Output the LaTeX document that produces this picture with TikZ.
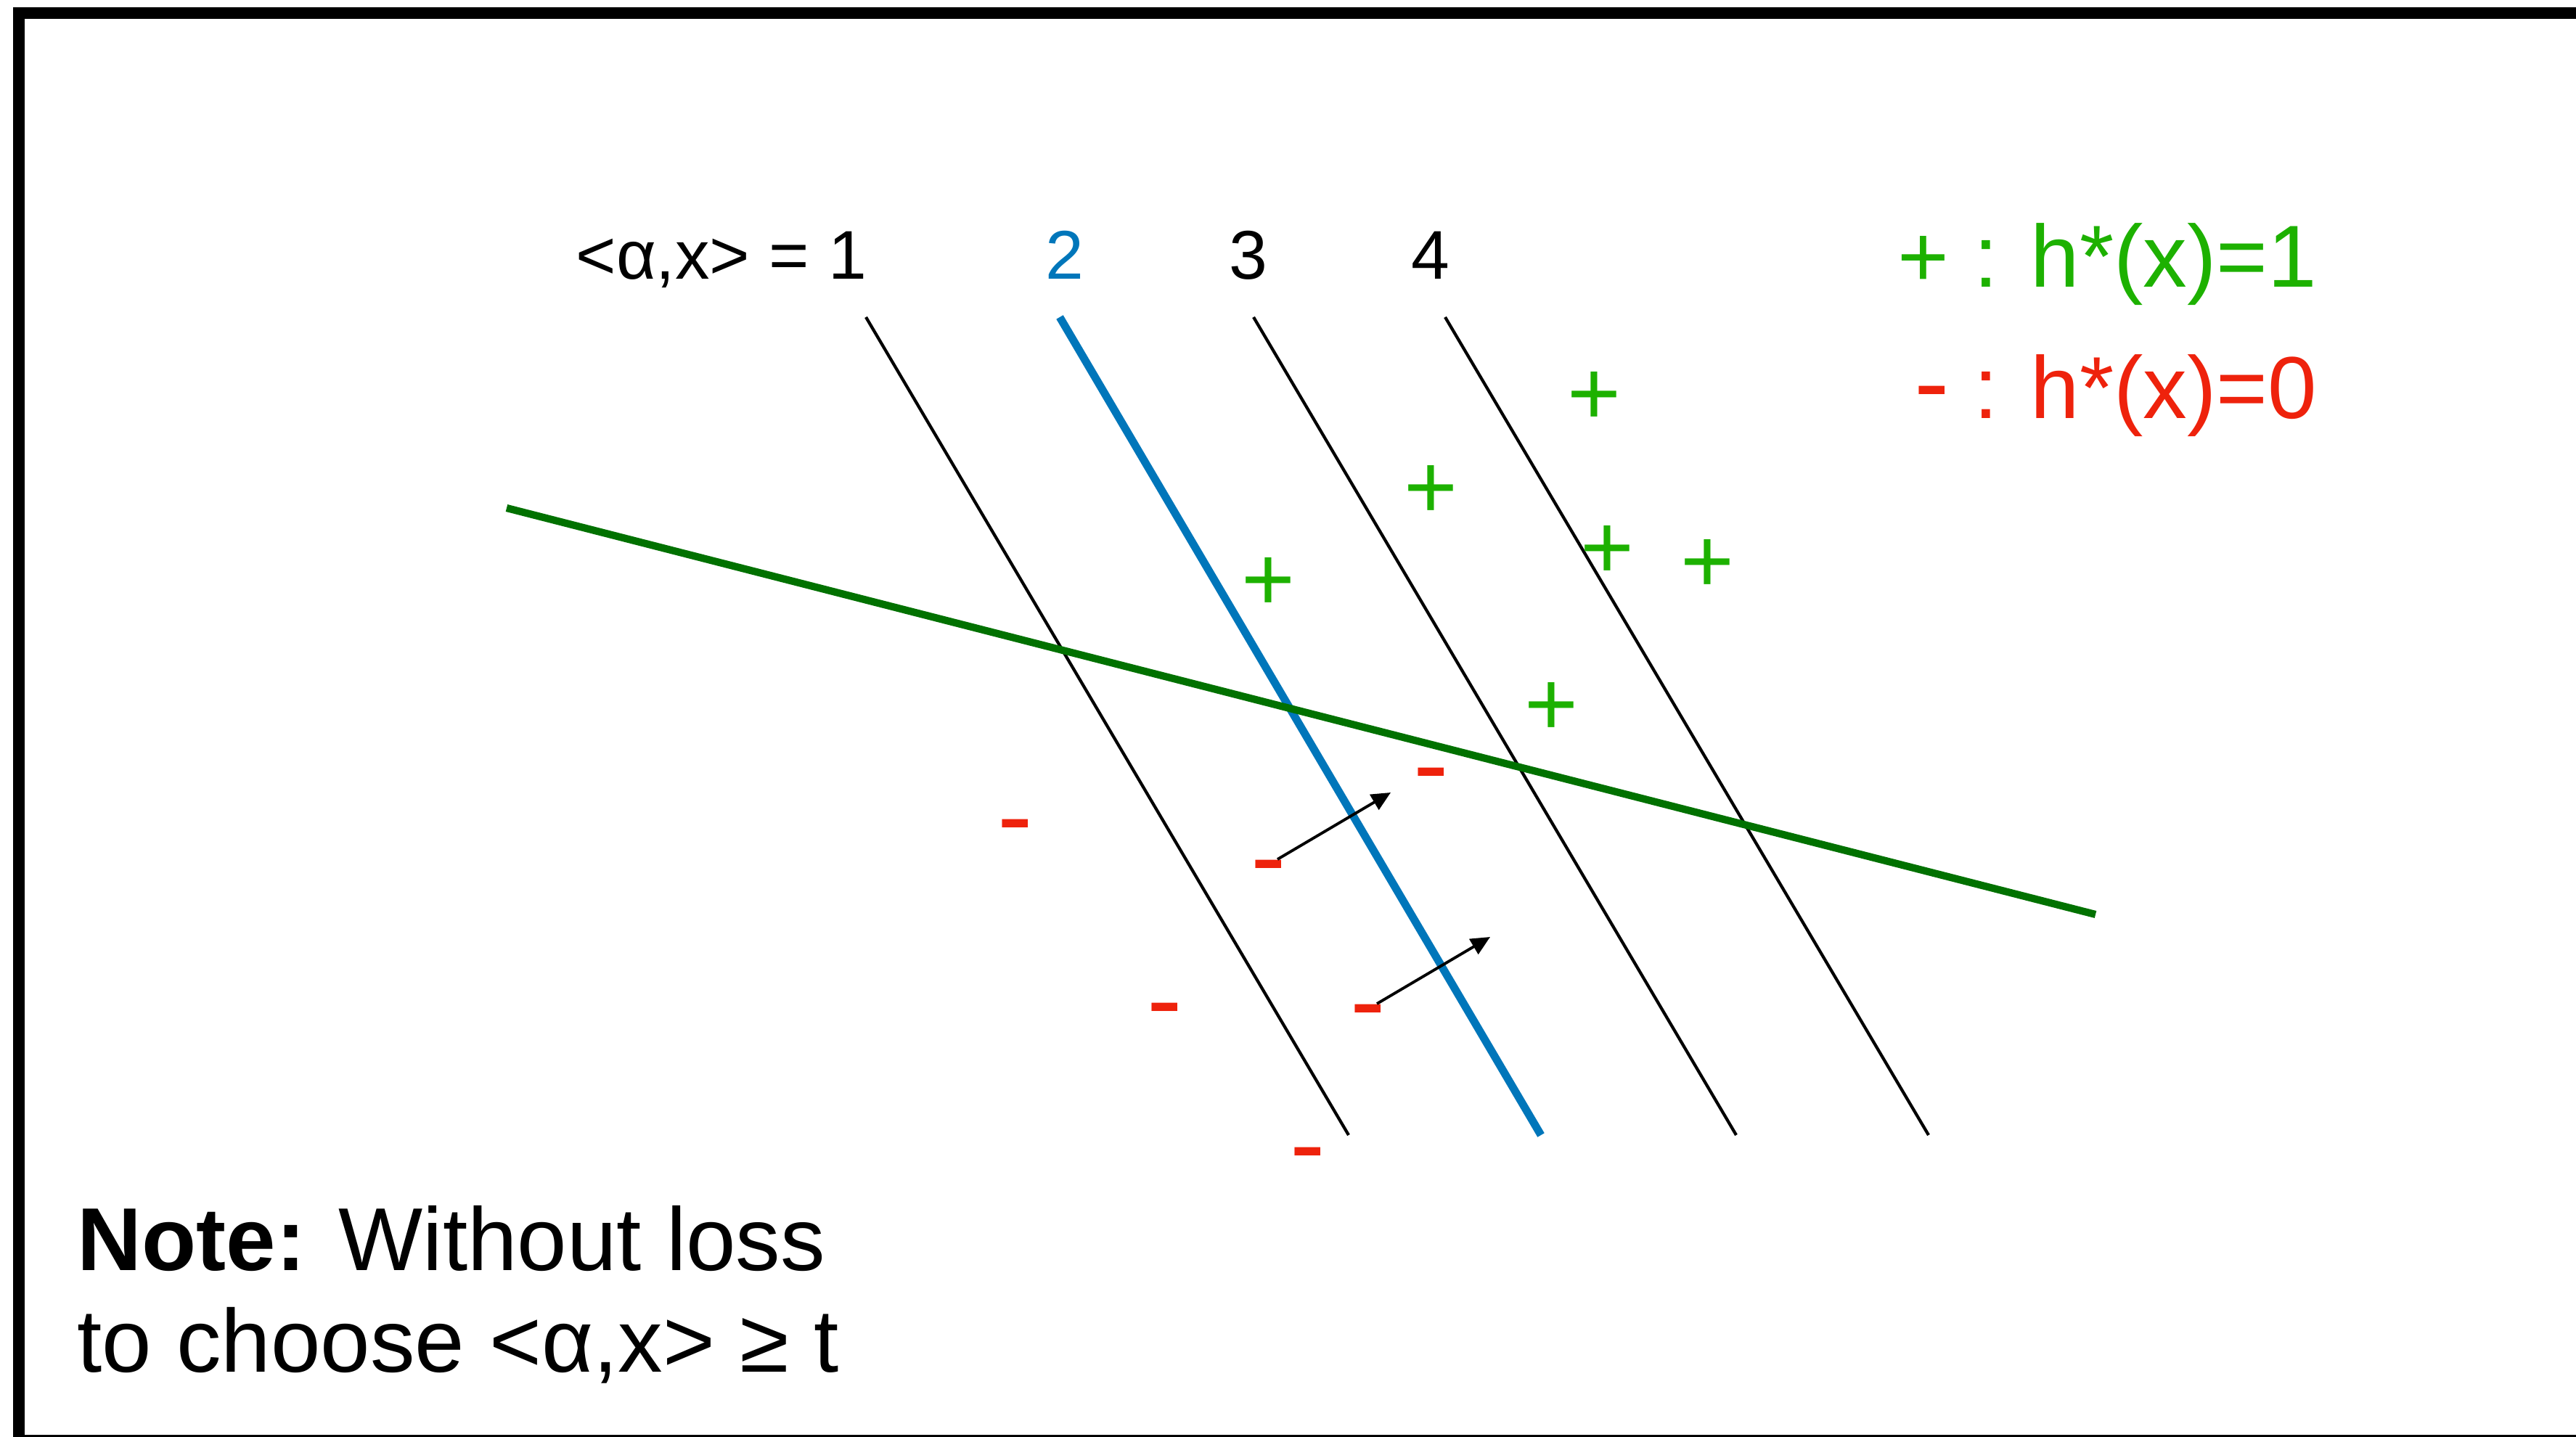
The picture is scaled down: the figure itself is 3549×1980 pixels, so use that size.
\documentclass[tikz,border=0pt]{standalone}
\usepackage{fontspec}
\setmainfont{Liberation Sans}
\usetikzlibrary{arrows.meta}
\definecolor{kgreen}{RGB}{29,177,0}
\definecolor{kred}{RGB}{238,34,12}
\definecolor{kblue}{RGB}{0,118,186}
\definecolor{kdark}{RGB}{1,113,0}

\begin{document}
\begin{tikzpicture}[
  x=0.01cm, y=-0.01cm,
  lbl/.style={font=\fontsize{27}{30}\selectfont, anchor=base, inner sep=0pt},
  legend/.style={font=\fontsize{34.5}{38}\selectfont, anchor=base east, inner sep=0pt},
  note/.style={font=\fontsize{35}{40}\selectfont, anchor=base west, inner sep=0pt},
  ptplus/.style={text=kgreen, font=\fontsize{36}{38}\selectfont, anchor=base, inner sep=0pt, yshift=-4.6mm},
  ptminus/.style={text=kred, font=\fontsize{34.5}{38}\selectfont, anchor=base, inner sep=0pt, yshift=-4.1mm},
  level/.style={line width=1.2pt},
  sep/.style={kdark, line width=2.9pt},
  arr/.style={-{Triangle[length=7.5pt, width=6.8pt]}, line width=1.1pt},
  frame/.style={line width=4.6pt}
]
\useasboundingbox (0,0) rectangle (3549,1980);
\clip (0,0) rectangle (3549,1980);
\draw[frame] (26,18) rectangle (3620,1985);

% --- level lines <a,x> = 1..4 ---
\node[lbl, anchor=base east] (l1) at (1195,385) {<α,x> = 1};
\node[lbl, text=kblue] (l2) at (1467,385) {2};
\node[lbl] (l3) at (1720,385) {3};
\node[lbl] (l4) at (1971,385) {4};
\draw[level] (1193,437) -- (1858,1564);
\draw[kblue, line width=3.1pt] (1460,437) -- (2123,1564);
\draw[level] (1727,437) -- (2392,1564);
\draw[level] (1991,437) -- (2657,1564);

% --- true separator ---
\draw[sep] (698,700) -- (2887,1260);

% --- legend ---
\node[legend, text=kgreen] (lp) at (3193,396) {+ : h*(x)=1};
\node[legend, text=kred]   (lm) at (3193,577) {\scalebox{1.2}[1.2]{-} : h*(x)=0};

% --- labelled points ---
\node[ptplus] (p1) at (2196,539) {+};
\node[ptplus] (p2) at (1971,668) {+};
\node[ptplus] (p3) at (1747,795) {+};
\node[ptplus] (p4) at (2214,751) {+};
\node[ptplus] (p5) at (2352,770) {+};
\node[ptplus] (p6) at (2137,967) {+};
\node[ptminus] (m1) at (1399,1132) {\scalebox{1.2}[1.2]{-}};
\node[ptminus] (m2) at (1972,1061) {\scalebox{1.2}[1.2]{-}};
\node[ptminus] (m3) at (1748,1188) {\scalebox{1.2}[1.2]{-}};
\node[ptminus] (m4) at (1605,1385) {\scalebox{1.2}[1.2]{-}};
\node[ptminus] (m5) at (1885,1387) {\scalebox{1.2}[1.2]{-}};
\node[ptminus] (m6) at (1802,1584) {\scalebox{1.2}[1.2]{-}};

% shifting two negatives across the blue line
\coordinate (t1) at (1916,1092);
\coordinate (t2) at (2053,1291);
\draw[arr] ([shift={(12,-45)}]m3.base) -- (t1);
\draw[arr] ([shift={(12,-45)}]m5.base) -- (t2);

% --- note ---
\node[note] (n1) at (106,1750) {\textbf{Note:} Without loss};
\node[note] (n2) at (106,1890) {to choose <α,x> ≥ t};
\end{tikzpicture}
\end{document}
